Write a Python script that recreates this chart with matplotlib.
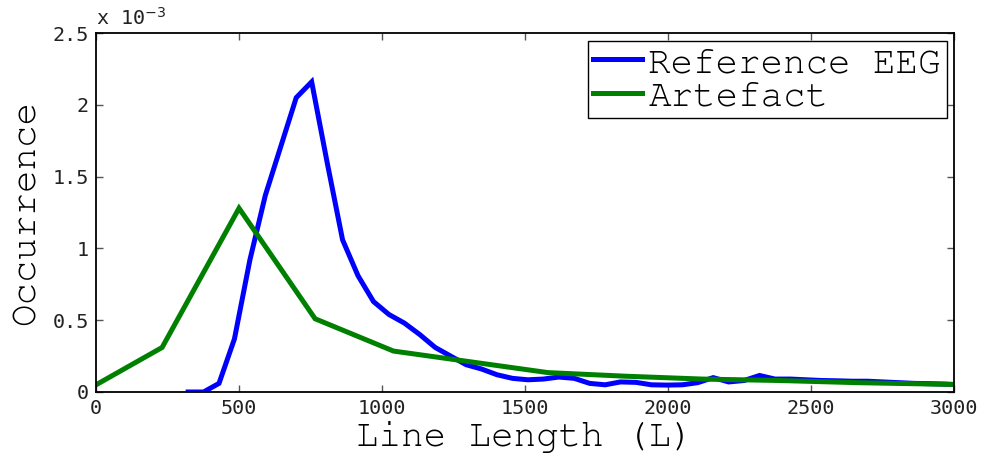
import matplotlib
matplotlib.use("Agg")
import matplotlib.pyplot as plt
from matplotlib import font_manager

# histogram of line length, occurrence values in units of 1e-3
eeg_x = [322, 376, 430, 484, 538, 592, 646, 700, 754, 808, 862, 916, 970,
         1024, 1078, 1132, 1186, 1240, 1294, 1348, 1402, 1456, 1510, 1564,
         1618, 1672, 1726, 1780, 1834, 1888, 1942, 1996, 2050, 2104, 2158,
         2212, 2266, 2320, 2374, 2428, 2482, 2536, 2590, 2644, 2698, 2752,
         2806, 2860, 2914, 2968, 3022]
eeg_y = [0.0, 0.0, 0.06, 0.37, 0.92, 1.37, 1.71, 2.05, 2.16, 1.60, 1.06, 0.81,
         0.63, 0.54, 0.48, 0.40, 0.31, 0.25, 0.19, 0.16, 0.12, 0.095, 0.085,
         0.09, 0.104, 0.095, 0.06, 0.05, 0.07, 0.067, 0.05, 0.048, 0.05,
         0.065, 0.10, 0.07, 0.08, 0.115, 0.09, 0.09, 0.085, 0.08, 0.078,
         0.075, 0.075, 0.07, 0.065, 0.06, 0.058, 0.055, 0.05]

art_x = [0, 231, 500, 766, 1040, 1310, 1580, 1850, 2120, 2390, 2660, 2930, 3200]
art_y = [0.05, 0.31, 1.28, 0.51, 0.285, 0.21, 0.135, 0.11, 0.09, 0.08, 0.065,
         0.055, 0.045]

xticks = [0, 500, 1000, 1500, 2000, 2500, 3000]
yticks = [0, 0.5, 1, 1.5, 2, 2.5]
ytick_labels = ["0", "0.5", "1", "1.5", "2", "2.5"]

# courier-like font if one is around, else a plain monospace
have = {f.name for f in font_manager.fontManager.ttflist}
mono = "Liberation Mono"
for name in ["Courier New", "Nimbus Mono PS", "Nimbus Mono L", "FreeMono",
             "Courier 10 Pitch", "Courier"]:
    if name in have:
        mono = name
        break
tickfont = "DejaVu Sans Mono"

fig = plt.figure(figsize=(9.91, 4.59), dpi=100)
ax = fig.add_axes([0.0969, 0.146, 0.8658, 0.782])

ax.plot(eeg_x, eeg_y, color="#0000ff", lw=3.6, label="Reference EEG",
        solid_joinstyle="miter")
ax.plot(art_x, art_y, color="#008000", lw=3.6, label="Artefact",
        solid_joinstyle="miter")

ax.set_xlim(0, 3000)
ax.set_ylim(0, 2.5)
ax.set_xticks(xticks)
ax.set_xticklabels([str(t) for t in xticks], family=tickfont, fontsize=14.5)
ax.set_yticks(yticks)
ax.set_yticklabels(ytick_labels, family=tickfont, fontsize=14.5)
ax.tick_params(direction="in", length=5, width=1, color="#555555",
               top=True, right=True, pad=5, labelcolor="#222222")
for sp in ax.spines.values():
    sp.set_linewidth(1.3)

ax.set_xlabel("Line Length (L)", family=mono, fontsize=27, labelpad=2,
              fontweight="medium")
ax.set_ylabel("Occurrence", family=mono, fontsize=27, labelpad=8)

# exponent marker above the y axis
ax.text(0.0, 1.012, r"x 10$^{-3}$", transform=ax.transAxes, family=tickfont,
        fontsize=14.5, ha="left", va="bottom", color="#222222")

leg = ax.legend(loc="upper right", prop={"family": mono, "size": 27},
                handlelength=1.3, handletextpad=0.17, labelspacing=0.0,
                borderpad=0.15, borderaxespad=0.2, fancybox=False,
                framealpha=1)
leg.get_frame().set_edgecolor("black")
leg.get_frame().set_linewidth(1.0)

fig.savefig("out.png", dpi=100)
